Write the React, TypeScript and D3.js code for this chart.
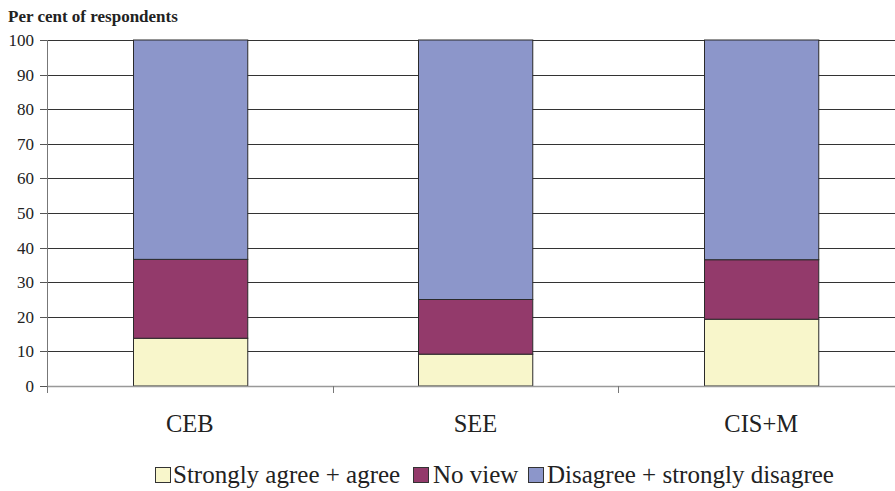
import React from "react";
import * as d3 from "d3";

const categories = ["CEB", "SEE", "CIS+M"];
const seriesNames = ["Strongly agree + agree", "No view", "Disagree + strongly disagree"];
const agree = [13.8, 9.2, 19.3];
const noView = [22.8, 15.8, 17.2];
const disagree = [63.4, 75.0, 63.5];
const yTicks = [0, 10, 20, 30, 40, 50, 60, 70, 80, 90, 100];
const colors = ["#F8F6CB", "#933A6B", "#8C96CA"];

const W = 895;
const H = 491;
const left = 47;
const right = 904;
const top = 40;
const bottom = 386;
const serif = { fontFamily: "Liberation Serif" };

export default function App() {
  const x = d3.scaleBand<string>().domain(categories).range([left, right]).paddingInner(0).paddingOuter(0);
  const y = d3.scaleLinear().domain([0, 100]).range([bottom, top]);
  const rows = categories.map((c, i) => ({ cat: c, a: agree[i], n: noView[i], d: disagree[i] }));
  const stacked = d3.stack<any>().keys(["a", "n", "d"])(rows);
  const barW = x.bandwidth() * 0.4;

  // legend entries: swatch left edge and label start
  const legendItems = [
    { sx: 155, tx: 173, label: seriesNames[0] },
    { sx: 413, tx: 433, label: seriesNames[1] },
    { sx: 528, tx: 547, label: seriesNames[2] },
  ];

  return (
    <div style={{ position: "absolute", left: 0, top: 0, width: W, height: H, background: "#fff" }}>
      <svg width={W} height={H}>
        <text x={8} y={22} fontWeight="bold" fontSize={17} fill="#222" style={serif}>
          Per cent of respondents
        </text>
        {/* horizontal gridlines and value ticks */}
        {yTicks.map((t) => (
          <g key={t}>
            {t > 0 && (
              <line x1={left} x2={W} y1={Math.round(y(t)) + 0.5} y2={Math.round(y(t)) + 0.5} stroke="#333" strokeWidth={1} />
            )}
            <line x1={40} x2={left} y1={Math.round(y(t)) + 0.5} y2={Math.round(y(t)) + 0.5} stroke="#555" />
            <text x={34} y={y(t)} dy="0.35em" textAnchor="end" fontSize={17} fill="#222" style={serif}>
              {t}
            </text>
          </g>
        ))}
        {/* stacked bars */}
        {stacked.map((s, si) =>
          s.map((d, i) => {
            const cx = (x(categories[i]) as number) + x.bandwidth() / 2;
            return (
              <rect
                key={si + "-" + i}
                x={Math.round(cx - barW / 2) + 0.5}
                y={y(d[1])}
                width={barW}
                height={y(d[0]) - y(d[1])}
                fill={colors[si]}
                stroke="#2a2a2a"
                strokeWidth={1}
              />
            );
          })
        )}
        {/* axes */}
        <line x1={left + 0.5} x2={left + 0.5} y1={top} y2={bottom + 7} stroke="#777" />
        <line x1={left} x2={W} y1={bottom + 0.5} y2={bottom + 0.5} stroke="#999" strokeWidth={1.5} />
        {categories.map((c) => (
          <line
            key={"t" + c}
            x1={Math.round(x(c) as number) + 0.5}
            x2={Math.round(x(c) as number) + 0.5}
            y1={bottom}
            y2={bottom + 7}
            stroke="#777"
          />
        ))}
        {categories.map((c) => (
          <text
            key={c}
            x={(x(c) as number) + x.bandwidth() / 2}
            y={432}
            textAnchor="middle"
            fontSize={24.5}
            fill="#222"
            style={serif}
          >
            {c}
          </text>
        ))}
        {/* legend */}
        {legendItems.map((it, i) => (
          <g key={it.label}>
            <rect x={it.sx + 0.5} y={467.5} width={15} height={15} fill={colors[i]} stroke="#333" />
            <text x={it.tx} y={483} fontSize={25} fill="#222" style={serif}>
              {it.label}
            </text>
          </g>
        ))}
      </svg>
    </div>
  );
}
